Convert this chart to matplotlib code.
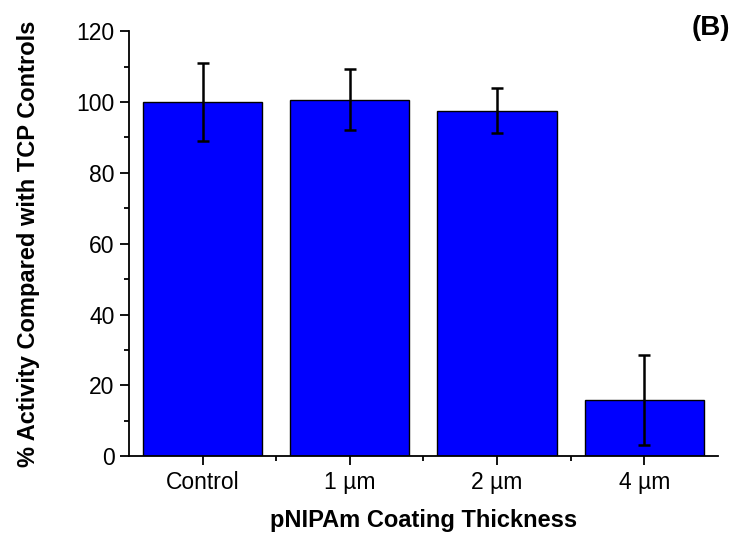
import matplotlib.pyplot as plt
from matplotlib.ticker import MultipleLocator, FixedLocator

plt.rcParams['font.family'] = ['Liberation Sans', 'DejaVu Sans']

# data
categories = ['Control', '1 µm', '2 µm', '4 µm']
activity = [100.0, 100.7, 97.6, 15.8]
errors = [11.0, 8.6, 6.4, 12.7]

fig = plt.figure(figsize=(7.37, 5.38), dpi=100)
ax = fig.add_axes([0.175, 0.152, 0.799, 0.790])

x = list(range(1, len(categories) + 1))
ax.bar(x, activity, width=0.81, color='#0000ff', edgecolor='black', linewidth=1.0, zorder=2)
ax.errorbar(x, activity, yerr=errors, fmt='none', ecolor='black', elinewidth=1.8,
            capsize=4, capthick=1.8, zorder=3)

ax.set_xlim(0.5, 4.5)
ax.set_ylim(0, 120)
ax.set_xticks(x)
ax.set_xticklabels(categories)
ax.xaxis.set_minor_locator(FixedLocator([1.5, 2.5, 3.5]))
ax.yaxis.set_major_locator(MultipleLocator(20))
ax.yaxis.set_minor_locator(MultipleLocator(10))

for s in ['top', 'right']:
    ax.spines[s].set_visible(False)
for s in ['left', 'bottom']:
    ax.spines[s].set_linewidth(1.3)

ax.tick_params(axis='both', which='major', direction='out', length=6.5, width=1.3,
               labelsize=16.5, pad=4)
ax.tick_params(axis='both', which='minor', direction='out', length=3.5, width=1.3)

ax.set_xlabel('pNIPAm Coating Thickness', fontsize=17, fontweight='bold', labelpad=11)
ax.set_ylabel('% Activity Compared with TCP Controls', fontsize=17, fontweight='bold', labelpad=26)

fig.text(0.99, 0.948, '(B)', fontsize=20, fontweight='bold', ha='right', va='center')

fig.savefig('out.png', dpi=100)
